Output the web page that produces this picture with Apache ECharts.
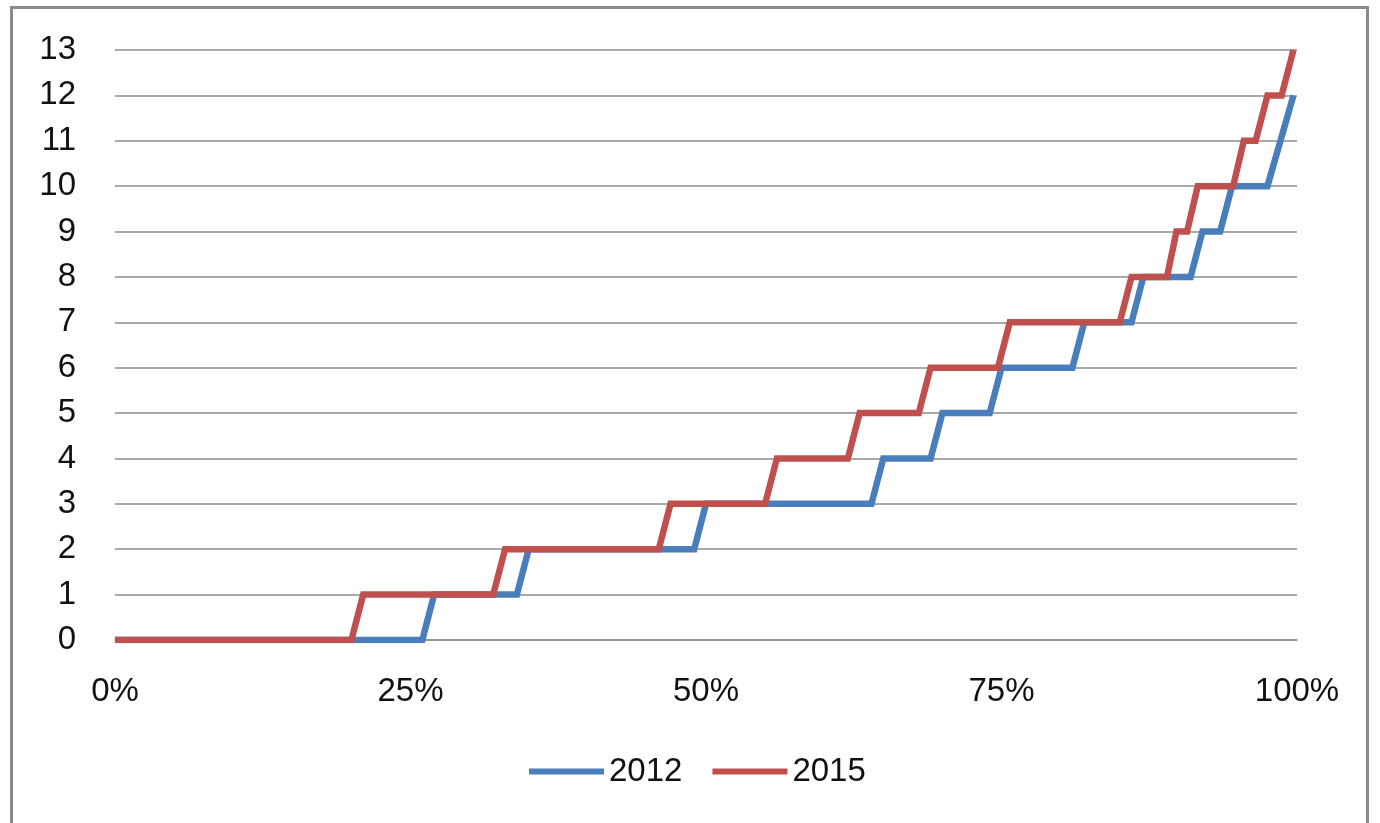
<!DOCTYPE html>
<html>
<head>
<meta charset="utf-8">
<script src="https://cdn.jsdelivr.net/npm/echarts@6/dist/echarts.min.js"></script>
<style>
  html, body { margin: 0; padding: 0; width: 1380px; height: 823px; overflow: hidden; background: #fff; }
  #frame { position: absolute; left: 10px; top: 6px; width: 1359px; height: 840px; border: 3px solid #8a8a8a; box-sizing: border-box; }
  #chart { position: absolute; left: 0; top: 0; width: 1380px; height: 823px; }
</style>
</head>
<body>
<div id="frame"></div>
<div id="chart"></div>
<script>
// Series names
const seriesNames = ['2012', '2015'];
// Share of observations (percent) at each corner of the step curves
const pct2012 = [0, 26, 27, 34, 35, 49, 50, 64, 65, 69, 70, 74, 75, 81, 82, 86, 87, 91, 92, 93.5, 94.5, 97.5, 99.7];
const val2012 = [0, 0, 1, 1, 2, 2, 3, 3, 4, 4, 5, 5, 6, 6, 7, 7, 8, 8, 9, 9, 10, 10, 12];
const pct2015 = [0, 20, 21, 32, 33, 46, 47, 55, 56, 62, 63, 68, 69, 74.7, 75.7, 85, 86, 89, 89.8, 90.7, 91.6, 94.6, 95.5, 96.5, 97.5, 98.7, 99.7];
const val2015 = [0, 0, 1, 1, 2, 2, 3, 3, 4, 4, 5, 5, 6, 6, 7, 7, 8, 8, 9, 9, 10, 10, 11, 11, 12, 12, 13];
// Axis ticks
const xTicks = [0, 25, 50, 75, 100];
const yMax = 13;

const zip = (xs, ys) => xs.map((x, i) => [x, ys[i]]);
const colors = ['#4a7ebb', '#c0504d'];
const font = 'Liberation Sans';

const chart = echarts.init(document.getElementById('chart'), null, { renderer: 'canvas' });
chart.setOption({
  animation: false,
  backgroundColor: 'transparent',
  color: colors,
  grid: { left: 115, right: 83, top: 50, bottom: 183, containLabel: false },
  xAxis: {
    type: 'value',
    min: xTicks[0],
    max: xTicks[xTicks.length - 1],
    interval: xTicks[1] - xTicks[0],
    axisLine: { show: true, lineStyle: { color: '#8c8c8c', width: 1.5 } },
    axisTick: { show: false },
    splitLine: { show: false },
    axisLabel: { formatter: '{value}%', fontFamily: font, fontSize: 33, color: '#111', margin: 35 }
  },
  yAxis: {
    type: 'value',
    min: 0,
    max: yMax,
    interval: 1,
    axisLine: { show: false },
    axisTick: { show: false },
    splitLine: { show: true, lineStyle: { color: '#8c8c8c', width: 1.5 } },
    axisLabel: { fontFamily: font, fontSize: 33, color: '#111', margin: 39 }
  },
  legend: {
    data: seriesNames,
    left: 524,
    top: 750,
    icon: 'rect',
    itemWidth: 75,
    itemHeight: 6,
    itemGap: 30,
    textStyle: { fontFamily: font, fontSize: 33, color: '#111', padding: [0, 0, 0, 0] }
  },
  series: [
    {
      name: seriesNames[0], type: 'line', symbol: 'none', z: 2,
      data: zip(pct2012, val2012),
      lineStyle: { width: 6.5, color: colors[0], join: 'miter' },
      itemStyle: { color: colors[0] }
    },
    {
      name: seriesNames[1], type: 'line', symbol: 'none', z: 3,
      data: zip(pct2015, val2015),
      lineStyle: { width: 6.5, color: colors[1], join: 'miter' },
      itemStyle: { color: colors[1] }
    }
  ]
});
</script>
</body>
</html>
